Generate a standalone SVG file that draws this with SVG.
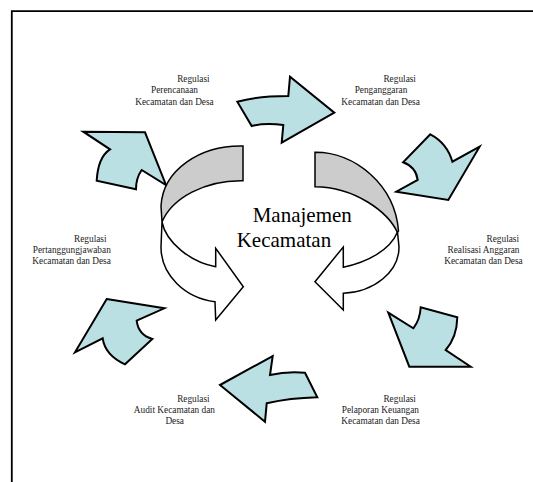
<svg xmlns="http://www.w3.org/2000/svg" width="533" height="482" viewBox="0 0 533 482">
<style>
.bg{fill:#ffffff}
.frame{fill:none;stroke:#000;stroke-width:1.8}
.blue{fill:#bbe0e3;stroke:#000;stroke-width:2;stroke-linejoin:miter}
.gray{fill:#cccccc;stroke:#000;stroke-width:1.5}
.white{fill:#ffffff;stroke:#000;stroke-width:1.5}
.lbl{font-family:"Liberation Serif","Times New Roman",serif;font-size:9.3px;fill:#222;text-anchor:middle}
.title{font-family:"Liberation Serif","Times New Roman",serif;font-size:21px;fill:#000}
</style>
<rect class="bg" x="0" y="0" width="533" height="482"/>
<path class="frame" d="M11.8,482 V11.2 H533"/>

<g id="connectors">
  <path id="arrow-perencanaan-penganggaran" class="blue" d="M237.3,101.7 Q256.7,96 288.3,96 L290,76.7 L334.3,112.7 L281.7,142.7 L283.3,125 Q265,122.7 251.7,126 Z"/>
  <path id="arrow-penganggaran-realisasi" class="blue" d="M430.3,134.3 Q447,143 452.4,161.7 L479.6,146.7 L448.3,200 L396.3,191.7 L417.7,180 Q416,167 403.1,162.3 Z"/>
  <path id="arrow-realisasi-pelaporan" class="blue" d="M388.3,312.7 L413.3,328.3 Q420,320 420.7,307.3 L457.3,317.3 Q457,337 445.7,350 L470.7,366.7 L409.3,366.7 Z"/>
  <path id="arrow-pelaporan-audit" class="blue" d="M220,385 L272.7,356 L270,375 Q287,371 305,372.7 L317.3,397.3 Q290,398 266.7,403.3 L265,421.7 Z"/>
  <path id="arrow-audit-pertanggungjawaban" class="blue" d="M106.7,299 L164.3,308.3 L136.7,320.7 Q138.3,335 152.3,339 L125,364.3 Q105,355 102.7,338.3 L75,352.3 Z"/>
  <path id="arrow-pertanggungjawaban-perencanaan" class="blue" d="M83.3,131.7 L145,132.3 L166,185 L141.7,170 Q136,178 136,189.3 L96.7,180.7 Q98,157 110,149.3 Z"/>
</g>

<g id="node-manajemen">
  <path class="gray" d="M243,146 C200,145 163,170 161,206 L162,222 C172,198 205,180 243,180.7 Z"/>
  <path class="white" d="M162,222 L161,247 C161,275 185,298 215,301.7 L215.7,320 L243.3,286.7 L215.7,248.3 L215.7,266.7 C190,262 166,242 162,222 Z"/>
  <path class="gray" d="M315,152.3 C355,152 395,185 398.5,231 L397.3,232.3 C388,212 355,187 315,186.7 Z"/>
  <path class="white" d="M397.5,232 L399,247 C399,272 374,292 343.3,293.3 L343.3,310 L315,281.7 L343.3,247 L343.3,267.3 C368,262 390,250 397.5,232 Z"/>
  <text class="title" x="252.7" y="221.5">Manajemen</text>
  <text class="title" x="236.7" y="246.5">Kecamatan</text>
</g>

<g id="node-perencanaan">
  <text class="lbl" x="193.4" y="82">Regulasi</text>
  <text class="lbl" x="174.5" y="93">Perencanaan</text>
  <text class="lbl" x="174.5" y="104.5">Kecamatan dan Desa</text>
</g>
<g id="node-penganggaran">
  <text class="lbl" x="399.7" y="82">Regulasi</text>
  <text class="lbl" x="381" y="93">Penganggaran</text>
  <text class="lbl" x="380.6" y="104.5">Kecamatan dan Desa</text>
</g>
<g id="node-pertanggungjawaban">
  <text class="lbl" x="90.3" y="241.5">Regulasi</text>
  <text class="lbl" x="71.8" y="253">Pertanggungjawaban</text>
  <text class="lbl" x="71.6" y="264">Kecamatan dan Desa</text>
</g>
<g id="node-realisasi">
  <text class="lbl" x="502.8" y="241.5">Regulasi</text>
  <text class="lbl" x="483.5" y="253">Realisasi Anggaran</text>
  <text class="lbl" x="483.5" y="264">Kecamatan dan Desa</text>
</g>
<g id="node-audit">
  <text class="lbl" x="193.4" y="402">Regulasi</text>
  <text class="lbl" x="174.4" y="413">Audit Kecamatan dan</text>
  <text class="lbl" x="174.7" y="424">Desa</text>
</g>
<g id="node-pelaporan">
  <text class="lbl" x="399.7" y="402">Regulasi</text>
  <text class="lbl" x="380.4" y="413">Pelaporan Keuangan</text>
  <text class="lbl" x="380.6" y="424">Kecamatan dan Desa</text>
</g>
</svg>
